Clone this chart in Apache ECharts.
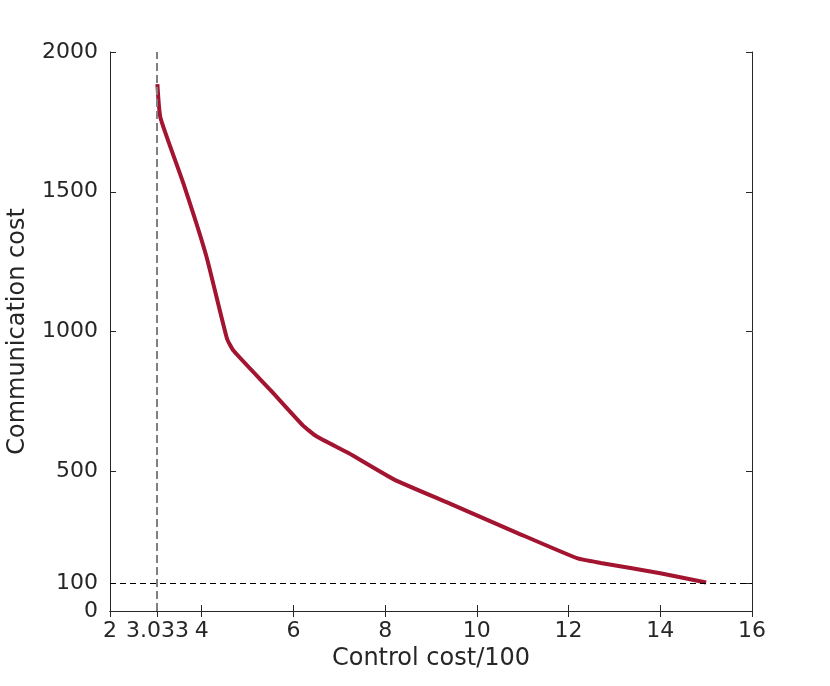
<!DOCTYPE html>
<html><head><meta charset="utf-8">
<script src="https://cdn.jsdelivr.net/npm/echarts@6/dist/echarts.min.js"></script>
<style>html,body{margin:0;padding:0;background:#fff}#c{width:830px;height:686px}</style>
</head><body><div id="c"></div>
<script>
const controlCost = [3.0333, 3.1, 3.6, 4.1, 4.55, 4.7, 5.5, 6.2, 6.5, 7.2, 8.2, 9.4, 10.9, 12.2, 12.7, 14, 15];
const commCost    = [1885, 1765, 1530, 1270, 975, 930, 790, 665, 625, 565, 470, 385, 278, 188, 172, 135, 102];
const xTicks = [2, 3.0333, 4, 6, 8, 10, 12, 14, 16];
const yTicks = [0, 100, 500, 1000, 1500, 2000];
const xRef = 3.0333;
const yRef = 100;

const font = 'DejaVu Sans';
const txt = '#262626';
const chart = echarts.init(document.getElementById('c'));
const axLine = {show: true, lineStyle: {color: '#262626', width: 1}};
function xAx(pos, show) {
  return {type: 'value', position: pos, min: 2, max: 16,
    axisLine: axLine, splitLine: {show: false},
    axisTick: {show: true, inside: true, length: 6, customValues: xTicks, lineStyle: {color: '#262626'}},
    axisLabel: {show: show, customValues: xTicks, margin: 9, color: txt, fontFamily: font, fontSize: 22,
      formatter: v => String(Number(v.toPrecision(4)))},
    name: show ? 'Control cost/100' : '', nameLocation: 'middle', nameGap: 36,
    nameTextStyle: {color: txt, fontFamily: font, fontSize: 24}};
}
function yAx(pos, show) {
  return {type: 'value', position: pos, min: 0, max: 2000,
    axisLine: axLine, splitLine: {show: false},
    axisTick: {show: true, inside: true, length: 6, customValues: yTicks, lineStyle: {color: '#262626'}},
    axisLabel: {show: show, customValues: yTicks, margin: 12, color: txt, fontFamily: font, fontSize: 22,
      formatter: v => String(v)},
    name: show ? 'Communication cost' : '', nameLocation: 'middle', nameGap: 80,
    nameTextStyle: {color: txt, fontFamily: font, fontSize: 24}};
}
chart.setOption({
  animation: false,
  grid: {left: 110, right: 78, top: 52, bottom: 75, containLabel: false, outerBoundsMode: 'none'},
  xAxis: [xAx('bottom', true), xAx('top', false)],
  yAxis: [yAx('left', true), yAx('right', false)],
  series: [{
    type: 'line', data: controlCost.map((x, i) => [x, commCost[i]]),
    showSymbol: false, smooth: 0.15,
    lineStyle: {color: '#a2142f', width: 4},
    markLine: {symbol: 'none', silent: true, label: {show: false},
      data: [
        {xAxis: xRef, lineStyle: {color: '#808080', type: [8, 4], width: 2}},
        {yAxis: yRef, lineStyle: {color: '#000', type: [6, 4], width: 1}}
      ]}
  }]
});
</script></body></html>
